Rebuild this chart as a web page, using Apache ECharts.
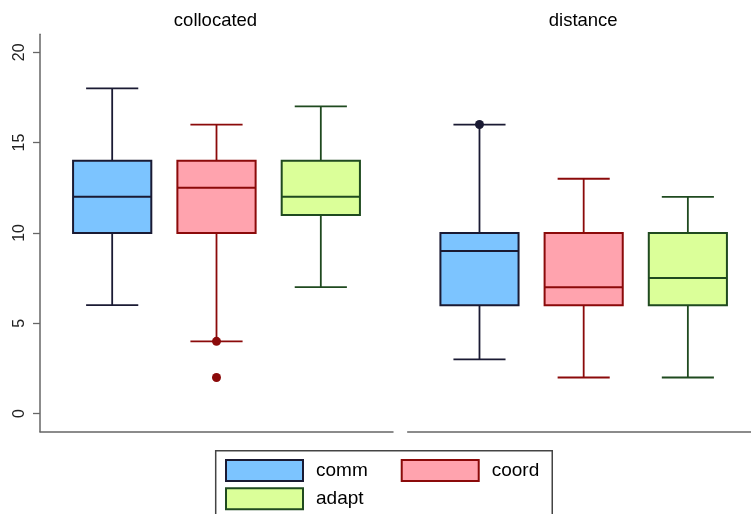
<!DOCTYPE html>
<html>
<head>
<meta charset="utf-8">
<script src="https://cdn.jsdelivr.net/npm/echarts@6/dist/echarts.min.js"></script>
<style>
  html, body { margin: 0; padding: 0; background: #fff; }
  #chart { width: 751px; height: 514px; }
</style>
</head>
<body>
<div id="chart"></div>
<script>
// Panels and groups
const panels = ['collocated', 'distance'];
const groups = ['comm', 'coord', 'adapt'];
const yTicks = [0, 5, 10, 15, 20];

// Five-number summaries: [min, q1, median, q3, max]
const collocatedComm  = [6, 10, 12, 14, 18];
const collocatedCoord = [4, 10, 12.5, 14, 16];
const collocatedAdapt = [7, 11, 12, 14, 17];
const distanceComm  = [3, 6, 9, 10, 16];
const distanceCoord = [2, 6, 7, 10, 13];
const distanceAdapt = [2, 6, 7.5, 10, 12];

// Outside values
const collocatedCoordOutliers = [4, 2];
const distanceCommOutliers = [16];

const summaries = [
  [collocatedComm, collocatedCoord, collocatedAdapt],
  [distanceComm, distanceCoord, distanceAdapt]
];
const outliers = [
  [[], collocatedCoordOutliers, []],
  [distanceCommOutliers, [], []]
];

const fills   = ['#7cc4ff', '#ffa3ae', '#dbff99'];
const strokes = ['#1a1a33', '#8b0a0a', '#1f4a1f'];
const FONT = 'Liberation Sans, Arial, sans-serif';
const AXIS = '#666';

function boxRenderer(fill, stroke) {
  return function (params, api) {
    const x = api.value(0);
    const at = v => api.coord([x, v]);
    const cx = at(api.value(1))[0];
    const yMin = at(api.value(1))[1];
    const yQ1 = at(api.value(2))[1];
    const yMed = at(api.value(3))[1];
    const yQ3 = at(api.value(4))[1];
    const yMax = at(api.value(5))[1];
    const boxW = api.size([0.75, 0])[0];
    const capW = api.size([0.5, 0])[0];
    const ls = { stroke: stroke, lineWidth: 1.8 };
    return {
      type: 'group',
      children: [
        { type: 'line', shape: { x1: cx, y1: yQ3, x2: cx, y2: yMax }, style: ls },
        { type: 'line', shape: { x1: cx - capW / 2, y1: yMax, x2: cx + capW / 2, y2: yMax }, style: ls },
        { type: 'line', shape: { x1: cx, y1: yQ1, x2: cx, y2: yMin }, style: ls },
        { type: 'line', shape: { x1: cx - capW / 2, y1: yMin, x2: cx + capW / 2, y2: yMin }, style: ls },
        { type: 'rect', shape: { x: cx - boxW / 2, y: yQ3, width: boxW, height: yQ1 - yQ3 },
          style: { fill: fill, stroke: stroke, lineWidth: 2 } },
        { type: 'line', shape: { x1: cx - boxW / 2, y1: yMed, x2: cx + boxW / 2, y2: yMed },
          style: { stroke: stroke, lineWidth: 2 } }
      ]
    };
  };
}

const series = [];
panels.forEach((panel, p) => {
  groups.forEach((g, i) => {
    series.push({
      name: g,
      type: 'custom',
      xAxisIndex: p,
      yAxisIndex: p,
      renderItem: boxRenderer(fills[i], strokes[i]),
      encode: { x: 0, y: [1, 2, 3, 4, 5] },
      data: [[i].concat(summaries[p][i])],
      silent: true
    });
    if (outliers[p][i].length) {
      series.push({
        name: g,
        type: 'scatter',
        xAxisIndex: p,
        yAxisIndex: p,
        symbolSize: 9,
        itemStyle: { color: strokes[i], opacity: 1 },
        data: outliers[p][i].map(v => [i, v]),
        silent: true
      });
    }
  });
});

const legendItem = i => ({
  name: groups[i],
  icon: 'rect',
  itemStyle: { color: fills[i], borderColor: strokes[i], borderWidth: 2 }
});
const legendText = { fontFamily: FONT, fontSize: 19, color: '#000', padding: [0, 0, 0, 8] };
const titleText = { fontFamily: FONT, fontSize: 18.5, fontWeight: 'normal', color: '#000' };

const chart = echarts.init(document.getElementById('chart'));
chart.setOption({
  animation: false,
  backgroundColor: '#fff',
  title: [
    { text: panels[0], left: 215.5, top: 11, padding: 0, textAlign: 'center', textStyle: titleText },
    { text: panels[1], left: 583.2, top: 11, padding: 0, textAlign: 'center', textStyle: titleText }
  ],
  grid: [
    { left: 40, top: 34.2, width: 353, height: 397.5 },
    { left: 407.7, top: 34.2, width: 343.3, height: 397.5 }
  ],
  xAxis: [
    { gridIndex: 0, type: 'value', min: -0.692, max: 2.692,
      axisLine: { show: true, onZero: false, lineStyle: { color: AXIS, width: 1.5 } },
      axisTick: { show: false }, axisLabel: { show: false }, splitLine: { show: false } },
    { gridIndex: 1, type: 'value', min: -0.689, max: 2.606,
      axisLine: { show: true, onZero: false, lineStyle: { color: AXIS, width: 1.5 } },
      axisTick: { show: false }, axisLabel: { show: false }, splitLine: { show: false } }
  ],
  yAxis: [
    { gridIndex: 0, type: 'value', min: -1, max: 21,
      axisLine: { show: true, onZero: false, lineStyle: { color: AXIS, width: 1.5 } },
      axisTick: { show: true, length: 7, customValues: yTicks, lineStyle: { color: AXIS, width: 1.3 } },
      axisLabel: { show: true, customValues: yTicks, rotate: 90, margin: 12,
        fontFamily: FONT, fontSize: 16, color: '#222' },
      splitLine: { show: false } },
    { gridIndex: 1, type: 'value', min: -1, max: 21, show: false }
  ],
  legend: [
    { data: [legendItem(0), legendItem(1)], left: 215.7, top: 450.7, orient: 'horizontal',
      padding: [8.3, 13, 60, 9.3], itemGap: 33, itemWidth: 77, itemHeight: 21,
      borderColor: '#444', borderWidth: 1.5, textStyle: legendText, selectedMode: false },
    { data: [legendItem(2)], left: 225, top: 487.3, orient: 'horizontal', padding: 0,
      itemWidth: 77, itemHeight: 21, textStyle: legendText, selectedMode: false }
  ],
  series: series
});
</script>
</body>
</html>
